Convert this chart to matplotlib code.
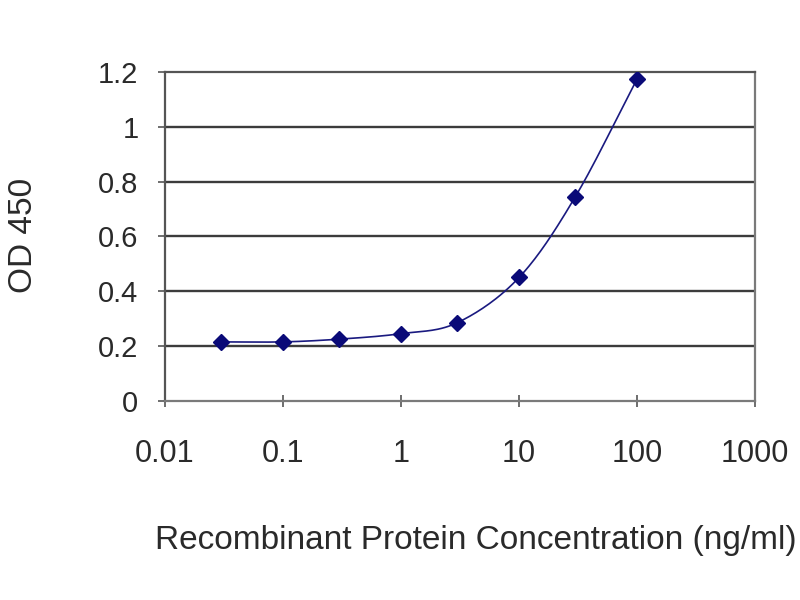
import numpy as np
import matplotlib.pyplot as plt
from matplotlib.ticker import FixedLocator, FixedFormatter

# data
conc = np.array([0.03, 0.1, 0.3, 1, 3, 10, 30, 100])          # ng/ml
od = np.array([0.215, 0.215, 0.225, 0.245, 0.285, 0.45, 0.745, 1.175])

xticks = [0.01, 0.1, 1, 10, 100, 1000]
xlabels = ['0.01', '0.1', '1', '10', '100', '1000']
yticks = [0, 0.2, 0.4, 0.6, 0.8, 1.0, 1.2]
ylabels = ['0', '0.2', '0.4', '0.6', '0.8', '1', '1.2']

plt.rcParams['font.family'] = ['Liberation Sans', 'DejaVu Sans']


# smoothed line through the markers (like a spreadsheet "smoothed line"),
# catmull-rom in log-x space
def smooth_line(x, y, n=30):
    lx = np.log10(x)
    px = np.concatenate(([2*lx[0]-lx[1]], lx, [2*lx[-1]-lx[-2]]))
    py = np.concatenate(([2*y[0]-y[1]], y, [2*y[-1]-y[-2]]))
    xs, ys = [], []
    t = np.linspace(0, 1, n)
    for i in range(1, len(px)-2):
        for p, out in ((px, xs), (py, ys)):
            p0, p1, p2, p3 = p[i-1], p[i], p[i+1], p[i+2]
            out.append(0.5*((2*p1) + (-p0+p2)*t + (2*p0-5*p1+4*p2-p3)*t**2
                            + (-p0+3*p1-3*p2+p3)*t**3))
    return 10**np.concatenate(xs), np.concatenate(ys)


fig = plt.figure(figsize=(8, 6), dpi=100)
ax = fig.add_axes([0.206, 0.332, 0.738, 0.548])

sx, sy = smooth_line(conc, od)
ax.plot(sx, sy, color='#1a1a80', lw=1.2, zorder=3)
ax.plot(conc, od, 'D', color='#0a0a78', ms=8, zorder=4)

ax.set_xscale('log')
ax.set_xlim(0.01, 1000)
ax.set_ylim(0, 1.2)
ax.xaxis.set_major_locator(FixedLocator(xticks))
ax.xaxis.set_major_formatter(FixedFormatter(xlabels))
ax.xaxis.set_minor_locator(FixedLocator([]))
ax.set_yticks(yticks)
ax.set_yticklabels(ylabels)

for v in yticks[1:-1]:
    ax.axhline(v, color='#3c3c3c', lw=1.7, zorder=1)

for s in ax.spines.values():
    s.set_color('#7a7a7a')
    s.set_linewidth(1.6)
ax.spines['top'].set_color('#555555')
ax.spines['left'].set_color('#555555')

ax.tick_params(axis='x', direction='inout', length=9, width=1.2, color='#555555',
               labelsize=22, labelcolor='#2a2a2a', pad=23)
ax.tick_params(axis='y', direction='out', length=5, width=1.2, color='#555555',
               labelsize=21, labelcolor='#2a2a2a', pad=14)

fig.text(476/800, 1 - 541/600, 'Recombinant Protein Concentration (ng/ml)',
         fontsize=24, color='#2a2a2a', ha='center', va='center')
fig.text(24/800, 1 - 235/600, 'OD 450', fontsize=24, color='#2a2a2a',
         rotation=90, ha='center', va='center')

plt.savefig('out.png', dpi=100)
